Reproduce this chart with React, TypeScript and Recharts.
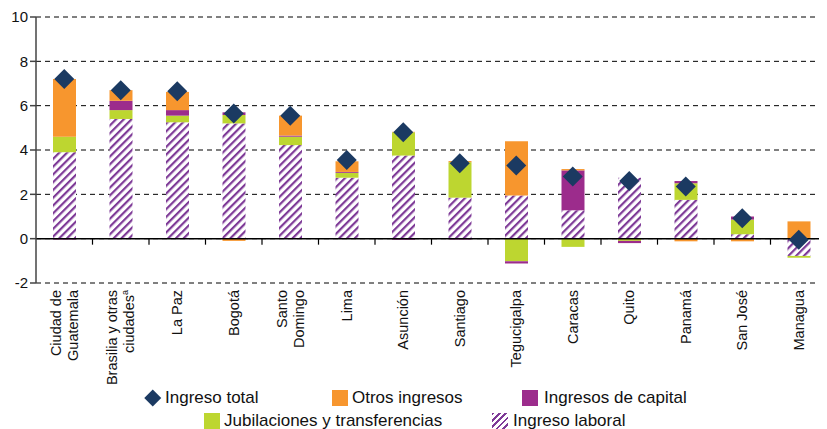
import React from "react";
import {
  ComposedChart,
  Bar,
  Scatter,
  XAxis,
  YAxis,
  CartesianGrid,
  ReferenceLine,
} from "recharts";

const cities = [
  "Ciudad de\nGuatemala",
  "Brasilia y otras\nciudades^a",
  "La Paz",
  "Bogotá",
  "Santo\nDomingo",
  "Lima",
  "Asunción",
  "Santiago",
  "Tegucigalpa",
  "Caracas",
  "Quito",
  "Panamá",
  "San José",
  "Managua",
];
const laboral = [3.9, 5.4, 5.25, 5.2, 4.22, 2.75, 3.75, 1.85, 1.95, 1.28, 2.75, 1.75, 0.2, -0.78];
const jubilaciones = [0.7, 0.4, 0.3, 0.38, 0.38, 0.22, 1.05, 1.6, -1.02, -0.37, -0.1, 0.75, 0.66, -0.08];
const capital = [-0.04, 0.42, 0.25, 0.12, 0.05, 0.04, -0.05, -0.04, -0.1, 1.8, -0.1, 0.1, 0.14, 0];
const otros = [2.6, 0.48, 0.82, -0.1, 0.9, 0.48, 0.02, 0.05, 2.45, 0.06, 0, -0.12, -0.12, 0.78];
const total = [7.2, 6.7, 6.65, 5.65, 5.55, 3.55, 4.8, 3.4, 3.3, 2.8, 2.6, 2.35, 0.92, -0.05];
const yTicks = [-2, 0, 2, 4, 6, 8, 10];

const data = cities.map((c, i) => ({
  city: c,
  laboral: laboral[i],
  jubilaciones: jubilaciones[i],
  capital: capital[i],
  otros: otros[i],
  total: total[i],
}));

const FONT = '"Liberation Sans", Arial, sans-serif';
const ORANGE = "#F7962E";
const GREEN = "#BDD630";
const PURPLE = "#9C2C8C";
const NAVY = "#1B3A62";
const HATCH = "#7E3A97";

const W = 819;
const H = 395;
const TOP = 9;
const X_H = 120;
const Y_W = 28;
const PLOT_H = H - TOP - X_H;
const BAND = (W - Y_W) / cities.length;

function CityTick(props: any) {
  const { x, y, payload } = props;
  const lines: string[] = String(payload.value).split("\n");
  const zeroY = y - (2 * PLOT_H) / 12;
  return (
    <g>
      <line x1={x + BAND / 2} x2={x + BAND / 2} y1={zeroY} y2={zeroY + 6} stroke="#000" strokeWidth={1.2} />
      <g transform={`translate(${x},${y + 7}) rotate(-90)`}>
        <text textAnchor="end" fontSize={14.5} fontFamily={FONT} fill="#111">
          {lines.map((l, i) => {
            const parts = l.split("^");
            return (
              <tspan key={i} x={0} y={(i - (lines.length - 1) / 2) * 17 + 5}>
                {parts[0]}
                {parts[1] ? (
                  <tspan fontSize={9} dy={-6}>
                    {parts[1]}
                  </tspan>
                ) : null}
              </tspan>
            );
          })}
        </text>
      </g>
    </g>
  );
}

function Diamond(props: any) {
  const { cx, cy } = props;
  const r = 10;
  return <path d={`M${cx},${cy - r}L${cx + r},${cy}L${cx},${cy + r}L${cx - r},${cy}Z`} fill={NAVY} />;
}

const legendText: React.CSSProperties = { fontSize: 17, fontFamily: FONT, color: "#111", lineHeight: "20px", whiteSpace: "nowrap" };

function Swatch({ left, top, color, hatch }: { left: number; top: number; color?: string; hatch?: boolean }) {
  return (
    <div
      style={{
        position: "absolute",
        left,
        top,
        width: 16,
        height: 16,
        background: hatch
          ? `repeating-linear-gradient(135deg, ${HATCH} 0 2px, #fff 2px 4.5px)`
          : color,
      }}
    />
  );
}

export default function App() {
  return (
    <div style={{ position: "relative", width: W, height: 421, fontFamily: FONT }}>
      <ComposedChart
        width={W}
        height={H}
        data={data}
        stackOffset="sign"
        barCategoryGap={0}
        margin={{ top: TOP, right: 0, bottom: 0, left: 0 }}
      >
        <defs>
          <pattern id="hatch" patternUnits="userSpaceOnUse" width={5.5} height={5.5} patternTransform="rotate(45)">
            <rect x={0} y={0} width={5.5} height={5.5} fill="#fff" />
            <rect x={0} y={0} width={2.2} height={5.5} fill={HATCH} />
          </pattern>
        </defs>
        <CartesianGrid vertical={false} stroke="#000" strokeDasharray="5 4" />
        <XAxis
          dataKey="city"
          height={X_H}
          interval={0}
          axisLine={false}
          tickLine={false}
          tickSize={0}
          tickMargin={0}
          tick={<CityTick />}
        />
        <YAxis
          width={Y_W}
          domain={[-2, 10]}
          ticks={yTicks}
          interval={0}
          axisLine={{ stroke: "#444", strokeWidth: 1.5 }}
          tickLine={{ stroke: "#444", strokeWidth: 1.5 }}
          tickSize={6}
          tick={{ fontSize: 15, fontFamily: FONT, fill: "#111" }}
        />
        <ReferenceLine y={0} stroke="#000" strokeWidth={1.5} />
        <Bar dataKey="laboral" stackId="a" fill="url(#hatch)" barSize={23} isAnimationActive={false} />
        <Bar dataKey="jubilaciones" stackId="a" fill={GREEN} barSize={23} isAnimationActive={false} />
        <Bar dataKey="capital" stackId="a" fill={PURPLE} barSize={23} isAnimationActive={false} />
        <Bar dataKey="otros" stackId="a" fill={ORANGE} barSize={23} isAnimationActive={false} />
        <Scatter dataKey="total" shape={<Diamond />} isAnimationActive={false} />
      </ComposedChart>

      {/* legend */}
      <div
        style={{
          position: "absolute",
          left: 139,
          top: 384,
          width: 11.5,
          height: 11.5,
          background: NAVY,
          transform: "rotate(45deg)",
        }}
      />
      <div style={{ ...legendText, position: "absolute", left: 157, top: 380 }}>Ingreso total</div>
      <Swatch left={324} top={382} color={ORANGE} />
      <div style={{ ...legendText, position: "absolute", left: 344, top: 380 }}>Otros ingresos</div>
      <Swatch left={514} top={382} color={PURPLE} />
      <div style={{ ...legendText, position: "absolute", left: 536, top: 380 }}>Ingresos de capital</div>
      <Swatch left={196} top={405} color={GREEN} />
      <div style={{ ...legendText, position: "absolute", left: 216, top: 403 }}>Jubilaciones y transferencias</div>
      <Swatch left={484} top={405} hatch />
      <div style={{ ...legendText, position: "absolute", left: 505, top: 403 }}>Ingreso laboral</div>
    </div>
  );
}
